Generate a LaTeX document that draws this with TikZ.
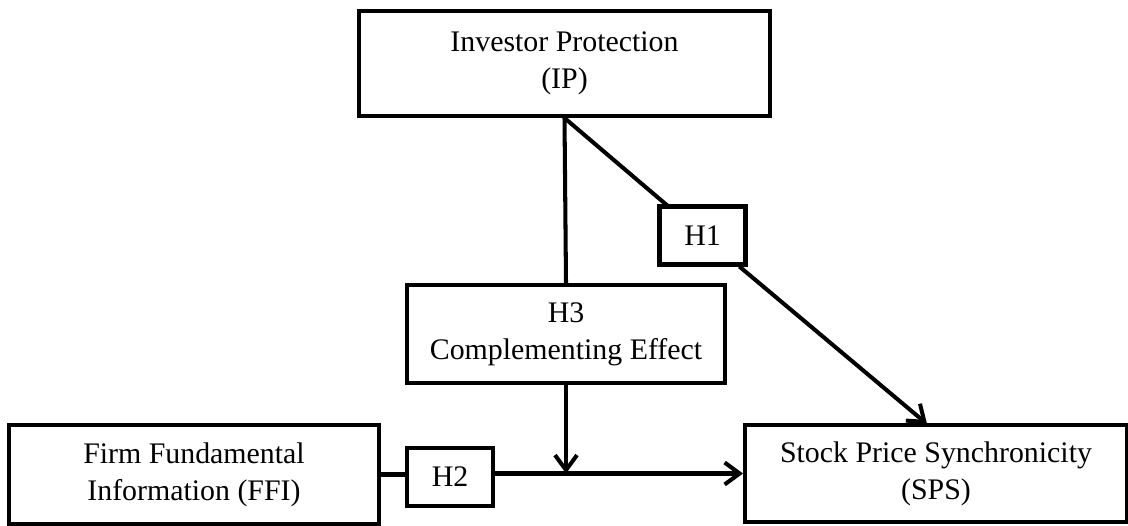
\documentclass[tikz,border=0pt]{standalone}
\usepackage{fontspec}
\setmainfont{Liberation Serif}
\usetikzlibrary{arrows.meta,calc,positioning}

\begin{document}
\begin{tikzpicture}[x=0.02cm,y=-0.02cm,
  box/.style={draw,line width=2.3pt,fill=white,align=center,inner sep=0pt,
    font=\fontsize{17}{21}\selectfont},
  link/.style={line width=2.3pt},
  arr/.style={link,-{Straight Barb[length=0.3cm,width=0.44cm,line width=2.3pt]}}]
\useasboundingbox (0,0) rectangle (1128,526);
% boxes
\node[box,minimum width=8.22cm,minimum height=2.1cm] (IP) at (564.5,63.5) {Investor Protection\\(IP)};
\node[box,minimum width=6.36cm,minimum height=1.96cm] (H3) at (566,334) {H3\\Complementing Effect};
\node[box,minimum width=7.4cm,minimum height=1.98cm] (FFI) at (194,474.5) {Firm Fundamental\\Information (FFI)};
\node[box,minimum width=7.64cm,minimum height=1.94cm] (SPS) at (936,473.5) {Stock Price Synchronicity\\(SPS)};
\draw[link] (IP.south) -- (H3.north);
\draw[link] (IP.south) -- (702.5,235.5) coordinate (h1pos);
\node[box,minimum width=1.72cm,minimum height=1.16cm] (H1) at (h1pos) {H1};
\node[box,minimum width=1.72cm,minimum height=1.16cm] (H2) at (450,477) {H2};
\coordinate (sin) at (927,424);
\coordinate (join) at (H3.south |- SPS.west);
% connectors
\draw[arr] (H1) -- (sin);
\draw[link] (FFI.east) -- (FFI.east -| H2.west);
\draw[arr] (H2.east |- SPS.west) -- (SPS.west);
\draw[arr] (H3.south) -- (join);
\end{tikzpicture}
\end{document}
